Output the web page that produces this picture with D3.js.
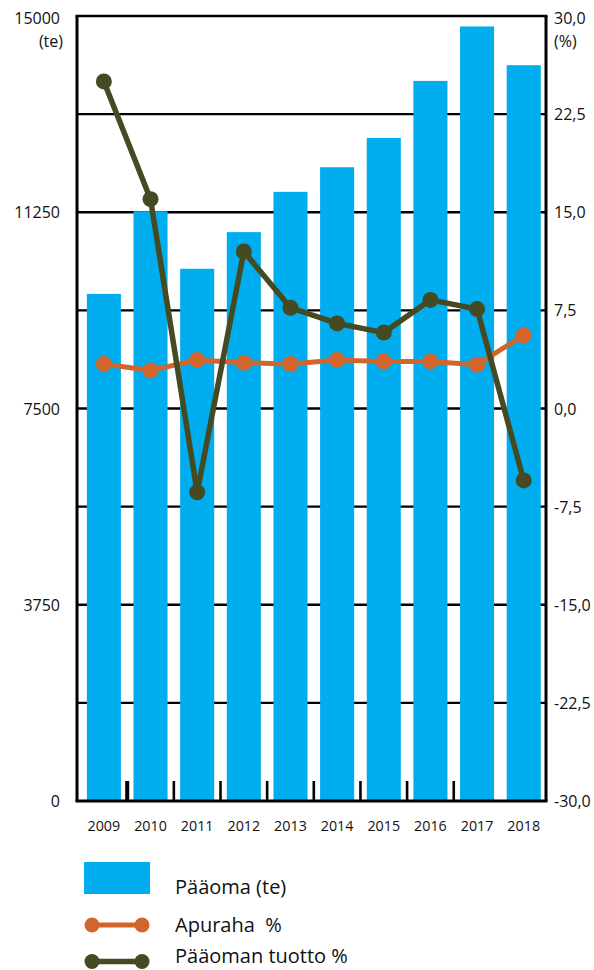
<!DOCTYPE html>
<html>
<head>
<meta charset="utf-8">
<script src="https://cdn.jsdelivr.net/npm/d3@7/dist/d3.min.js"></script>
<style>
  html, body { margin: 0; padding: 0; background: #ffffff; }
  svg { display: block; }
  text { font-family: "Open Sans", "Noto Sans", sans-serif; fill: #111; }
</style>
</head>
<body>
<svg id="chart" width="594" height="970"></svg>
<script>
// ---- Data ----
const years = ["2009","2010","2011","2012","2013","2014","2015","2016","2017","2018"];
const paaoma = [9690, 11270, 10170, 10870, 11640, 12110, 12670, 13760, 14800, 14060];
const apuraha = [3.4, 2.9, 3.7, 3.5, 3.4, 3.7, 3.6, 3.6, 3.35, 5.6];
const tuotto = [25.0, 16.0, -6.4, 12.0, 7.7, 6.5, 5.8, 8.3, 7.6, -5.5];
const leftTicks = [0, 3750, 7500, 11250, 15000];
const rightTicks = [-30, -22.5, -15, -7.5, 0, 7.5, 15, 22.5, 30];
const legendLabels = ["Pääoma (te)", "Apuraha  %", "Pääoman tuotto %"];

// ---- Layout ----
const plotLeft = 77, plotRight = 546, plotTop = 16, plotBottom = 801;
const colBar = "#00adee", colOrange = "#d2652b", colGreen = "#464a22";

const svg = d3.select("#chart");

const x = d3.scaleBand().domain(years).range([80.55, 547.05])
  .paddingInner(0.27).paddingOuter(0.135);
const yL = d3.scaleLinear().domain([0, 15000]).range([plotBottom, plotTop]);
const yR = d3.scaleLinear().domain([-30, 30]).range([plotBottom, plotTop]);
const cx = d => x(d) + x.bandwidth() / 2;

// gridlines
svg.append("g").selectAll("line")
  .data(rightTicks.filter(v => v > -30 && v < 30))
  .join("line")
  .attr("x1", plotLeft).attr("x2", plotRight)
  .attr("y1", d => yR(d)).attr("y2", d => yR(d))
  .attr("stroke", "#000").attr("stroke-width", 2.4);

// bars
svg.append("g").selectAll("rect")
  .data(years)
  .join("rect")
  .attr("x", d => x(d))
  .attr("width", x.bandwidth())
  .attr("y", (d, i) => yL(paaoma[i]))
  .attr("height", (d, i) => yL(0) - yL(paaoma[i]))
  .attr("fill", colBar);

// frame
const frame = svg.append("g").attr("stroke", "#000").attr("stroke-width", 3).attr("fill", "none");
frame.append("line").attr("x1", plotLeft - 1.5).attr("x2", plotRight + 1.5).attr("y1", plotTop).attr("y2", plotTop).attr("stroke-width", 2.6);
frame.append("line").attr("x1", plotLeft).attr("x2", plotLeft).attr("y1", plotTop).attr("y2", plotBottom);
frame.append("line").attr("x1", plotRight).attr("x2", plotRight).attr("y1", plotTop).attr("y2", plotBottom);
frame.append("line").attr("x1", plotLeft - 1.5).attr("x2", plotRight + 1.5).attr("y1", plotBottom).attr("y2", plotBottom);

// x ticks between categories (first 8 boundaries)
const boundaries = years.slice(0, 8).map(d => x(d) + x.bandwidth() + (x.step() - x.bandwidth()) / 2);
svg.append("g").selectAll("line")
  .data(boundaries)
  .join("line")
  .attr("x1", d => d).attr("x2", d => d)
  .attr("y1", plotBottom - 20).attr("y2", plotBottom)
  .attr("stroke", "#000")
  .attr("stroke-width", (d, i) => i === 0 ? 4 : 2.6);

// x labels
svg.append("g").selectAll("text")
  .data(years)
  .join("text")
  .attr("x", d => cx(d))
  .attr("y", 830.5)
  .attr("text-anchor", "middle")
  .attr("font-size", 14.3)
  .text(d => d);

// left labels
svg.append("g").selectAll("text")
  .data(leftTicks)
  .join("text")
  .attr("x", 60)
  .attr("y", d => yL(d) + (d === 15000 ? 8 : 6))
  .attr("text-anchor", "end")
  .attr("font-size", 16)
  .text(d => String(d));
svg.append("text").attr("x", 63).attr("y", 47).attr("text-anchor", "end").attr("font-size", 16).text("(te)");

// right labels
const fmt = v => (v < 0 ? "-" : "") + Math.abs(v).toFixed(1).replace(".", ",");
svg.append("g").selectAll("text")
  .data(rightTicks)
  .join("text")
  .attr("x", 554)
  .attr("y", d => yR(d) + (d === 30 ? 8 : 6))
  .attr("text-anchor", "start")
  .attr("font-size", 16)
  .text(d => fmt(d));
svg.append("text").attr("x", 554).attr("y", 47).attr("font-size", 16).text("(%)");

// lines
function drawSeries(vals, color, width) {
  const line = d3.line().x((d, i) => cx(years[i])).y(d => yR(d));
  const g = svg.append("g");
  g.append("path").datum(vals).attr("d", line)
    .attr("fill", "none").attr("stroke", color).attr("stroke-width", width)
    .attr("stroke-linejoin", "miter");
  g.selectAll("circle").data(vals).join("circle")
    .attr("cx", (d, i) => cx(years[i])).attr("cy", d => yR(d))
    .attr("r", 8).attr("fill", color);
}
drawSeries(apuraha, colOrange, 5);
drawSeries(tuotto, colGreen, 5.5);

// legend
const lg = svg.append("g");
lg.append("rect").attr("x", 84).attr("y", 862).attr("width", 66).attr("height", 32).attr("fill", colBar);
const legendLines = [{y: 925, c: colOrange, w: 5}, {y: 961.5, c: colGreen, w: 5.5}];
legendLines.forEach(l => {
  lg.append("line").attr("x1", 92).attr("x2", 142).attr("y1", l.y).attr("y2", l.y)
    .attr("stroke", l.c).attr("stroke-width", l.w);
  [92, 142].forEach(px => lg.append("circle").attr("cx", px).attr("cy", l.y).attr("r", 7.5).attr("fill", l.c));
});
lg.selectAll("text.lgt").data(legendLabels).join("text")
  .attr("class", "lgt")
  .attr("x", 175)
  .attr("y", (d, i) => [894, 931.5, 963][i])
  .attr("font-size", 20)
  .style("white-space", "pre")
  .text(d => d);
</script>
</body>
</html>
